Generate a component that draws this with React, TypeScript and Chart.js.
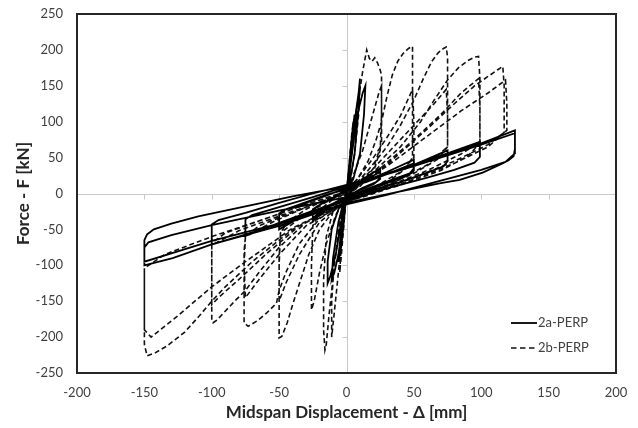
import React, { useEffect, useRef } from "react";
import { Chart, registerables } from "chart.js";

Chart.register(...registerables);

// ---- Axis definitions ----
const xLimits = [-200, 200];
const xStep = 50;
const yLimits = [-250, 250];
const yStep = 50;
const xTitle = "Midspan Displacement - Δ [mm]";
const yTitle = "Force - F [kN]";
const seriesNames = ["2a-PERP", "2b-PERP"];

// ---- Series 2a-PERP: [displacement mm, force kN] ----
const path2a: [number, number][] = [
  [0, 0], [2, 40], [4, 80], [6, 110], [5, 80], [2, 25], [0, 3], [-2, -40], [-4, -75], [-6, -95], [-5, -70], [-2, -22], [0, -2],
  [3, 50], [6, 100], [9, 140], [10, 160], [9, 120], [6, 55], [2, 12], [0, 2], [-3, -45], [-6, -85], [-9, -110], [-11, -120], [-10, -90], [-6, -40], [-2, -10], [0, 0],
  [4, 55], [8, 110], [12, 140], [14, 150], [13, 110], [10, 55], [5, 20], [0, 5], [-4, -40], [-8, -85], [-12, -115], [-14, -125], [-14, -95], [-11, -50], [-6, -22], [0, -4],
  [12, 20], [25, 35], [25, 22], [22, 16], [12, 8], [0, -5], [-12, -18], [-25, -38], [-25, -24], [-22, -18], [-12, -8], [0, 6],
  [12, 17], [25, 30], [25, 20], [20, 13], [10, 5], [0, -4], [-12, -16], [-25, -34], [-25, -22], [-20, -16], [-10, -6], [0, 4],
  [15, 18], [30, 30], [50, 47], [50, 35], [47, 28], [35, 20], [15, 6], [0, -6], [-20, -22], [-35, -34], [-50, -50], [-50, -30], [-46, -23], [-30, -13], [-15, -3], [0, 8],
  [15, 16], [30, 27], [50, 42], [50, 32], [46, 26], [35, 18], [15, 4], [0, -8], [-20, -24], [-35, -34], [-50, -46], [-50, -28], [-45, -22], [-30, -12], [-15, -2], [0, 6],
  [25, 24], [50, 40], [75, 60], [75, 45], [72, 38], [60, 29], [40, 16], [20, 5], [0, -8], [-25, -24], [-50, -41], [-75, -59], [-75, -36], [-70, -30], [-50, -19], [-25, -5], [0, 10],
  [25, 25], [50, 40], [75, 56], [99, 72], [99, 51], [95, 43], [80, 33], [60, 22], [30, 7], [0, -10], [-30, -29], [-60, -49], [-100, -71], [-100, -43], [-95, -37], [-75, -27], [-50, -13], [-25, 0], [0, 12],
  [25, 25], [50, 40], [75, 55], [100, 70], [125, 88], [125, 62], [124, 52], [120, 46], [115, 41], [101, 29], [84, 19], [69, 14], [40, 3], [0, -13], [-50, -45], [-100, -71], [-129, -90], [-150, -100],
  [-150, -65], [-148, -57], [-143, -50], [-130, -42], [-110, -32], [-75, -18], [-40, -4], [0, 10],
  [50, 38], [100, 68], [125, 84], [125, 56], [118, 44], [100, 33], [70, 18], [30, -2], [0, -15], [-50, -42], [-100, -66], [-150, -95],
  [-150, -75], [-147, -68], [-130, -58], [-100, -44], [-50, -24], [0, -5],
];

// ---- Series 2b-PERP: [displacement mm, force kN] ----
const path2b: [number, number][] = [
  [0, 0], [2, 40], [4, 85], [5, 100], [4, 70], [2, 25], [0, 0], [-2, -45], [-4, -90], [-5, -110], [-4, -75], [-2, -30], [0, 0],
  [3, 50], [6, 100], [9, 135], [10, 150], [9, 110], [6, 55], [3, 20], [0, 2], [-3, -50], [-6, -110], [-9, -165], [-11, -200], [-11, -150], [-9, -95], [-5, -40], [-2, -10], [0, 0],
  [4, 60], [8, 120], [12, 170], [15, 200], [17, 188], [19, 184], [21, 189], [23, 182], [25, 172], [26, 165], [26, 110], [25, 60], [20, 30], [10, 10], [0, -2],
  [-5, -40], [-9, -100], [-13, -170], [-15, -210], [-16, -218], [-17, -190], [-17, -120], [-15, -60], [-10, -25], [-5, -8], [0, 0],
  [5, 25], [12, 60], [18, 100], [24, 140], [26, 150], [26, 70], [20, 35], [10, 12], [0, -5], [-8, -30], [-15, -70], [-20, -110], [-24, -150], [-26, -162], [-26, -100], [-25, -45], [-18, -20], [-8, -5], [0, 5],
  [8, 20], [16, 45], [22, 75], [26, 100], [30, 135], [34, 165], [38, 184], [42, 195], [46, 202], [49, 205], [49, 150], [49, 90], [49, 50], [44, 35], [30, 15], [15, 2], [0, -8],
  [-10, -25], [-20, -50], [-28, -85], [-34, -120], [-40, -155], [-44, -180], [-48, -199], [-50, -201], [-50, -150], [-50, -90], [-49, -55], [-44, -40], [-30, -22], [-15, -8], [0, 2],
  [10, 25], [20, 50], [30, 78], [40, 108], [49, 145], [50, 100], [50, 50], [40, 30], [20, 8], [0, -10], [-20, -40], [-35, -85], [-45, -125], [-50, -150], [-50, -100], [-49, -55], [-35, -35], [-15, -12], [0, 0],
  [15, 30], [30, 65], [40, 95], [50, 130], [57, 160], [63, 183], [68, 196], [72, 202], [74, 204], [75, 190], [75, 140], [75, 90], [75, 65], [68, 48], [50, 28], [25, 8], [0, -10],
  [-20, -35], [-35, -70], [-45, -110], [-50, -135], [-52, -153], [-59, -166], [-66, -177], [-73, -185], [-76, -180], [-76, -130], [-76, -80], [-75, -60], [-65, -45], [-45, -30], [-20, -12], [0, 0],
  [20, 35], [40, 75], [55, 105], [65, 125], [74, 145], [75, 110], [75, 65], [60, 40], [35, 15], [0, -12], [-30, -45], [-50, -85], [-65, -120], [-75, -145], [-76, -100], [-75, -60], [-55, -40], [-25, -15], [0, 0],
  [20, 30], [40, 65], [55, 100], [65, 130], [75, 158], [83, 175], [90, 185], [95, 190], [98, 191], [99, 160], [99, 110], [99, 70], [90, 52], [70, 32], [40, 12], [0, -12],
  [-30, -40], [-50, -75], [-65, -110], [-75, -135], [-83, -150], [-91, -166], [-96, -176], [-99, -180], [-100, -176], [-100, -130], [-100, -69], [-90, -55], [-60, -35], [-30, -15], [0, 2],
  [25, 35], [50, 75], [70, 110], [85, 140], [98, 160], [99, 120], [99, 72], [85, 55], [60, 32], [30, 10], [0, -12], [-35, -45], [-60, -85], [-80, -120], [-95, -145], [-100, -155], [-100, -110], [-100, -72], [-80, -52], [-45, -28], [0, 0],
  [30, 40], [60, 90], [80, 125], [95, 150], [105, 163], [112, 172], [116, 177], [117, 150], [117, 110], [117, 85], [105, 65], [80, 42], [50, 20], [0, -12],
  [-40, -50], [-70, -95], [-90, -130], [-100, -150], [-109, -170], [-120, -193], [-133, -212], [-142, -222], [-148, -226], [-150, -210], [-150, -150], [-150, -104], [-135, -85], [-100, -60], [-60, -35], [-30, -15], [0, 3],
  [30, 38], [60, 80], [85, 115], [105, 140], [118, 158], [119, 125], [119, 88], [105, 68], [80, 45], [50, 22], [0, -12],
  [-40, -48], [-75, -95], [-100, -130], [-125, -170], [-145, -200], [-150, -190], [-150, -130], [-150, -104],
];

const FONT = "Lato, 'Open Sans', sans-serif";
const TEXT = "#404040";

const framePlugin = {
  id: "excelFrame",
  beforeDatasetsDraw(chart: any) {
    const { ctx, chartArea, scales } = chart;
    const { left, right, top, bottom } = chartArea;
    const xs = scales.x;
    const ys = scales.y;
    const x0 = Math.round(xs.getPixelForValue(0)) + 0.5;
    const y0 = Math.round(ys.getPixelForValue(0)) + 0.5;
    ctx.save();
    ctx.strokeStyle = "#c8c8c8";
    ctx.lineWidth = 1;
    ctx.beginPath();
    ctx.moveTo(left, y0);
    ctx.lineTo(right, y0);
    ctx.moveTo(x0, top);
    ctx.lineTo(x0, bottom);
    xs.ticks.forEach((t: any) => {
      const px = Math.round(xs.getPixelForValue(t.value)) + 0.5;
      ctx.moveTo(px, y0);
      ctx.lineTo(px, y0 + 5);
    });
    ys.ticks.forEach((t: any) => {
      const py = Math.round(ys.getPixelForValue(t.value)) + 0.5;
      ctx.moveTo(x0 - 5, py);
      ctx.lineTo(x0, py);
    });
    ctx.stroke();
    ctx.restore();
  },
  afterDatasetsDraw(chart: any) {
    const { ctx, chartArea } = chart;
    const { left, right, top, bottom } = chartArea;
    ctx.save();
    ctx.strokeStyle = "#262626";
    ctx.lineWidth = 2;
    ctx.strokeRect(left, top, right - left, bottom - top);
    ctx.restore();
  },
};

export default function App() {
  const ref = useRef<HTMLCanvasElement>(null);

  useEffect(() => {
    document.body.style.margin = "0";
    const canvas = ref.current;
    if (!canvas) return;
    const chart = new Chart(canvas, {
      type: "scatter",
      data: {
        datasets: [
          {
            label: seriesNames[0],
            data: path2a.map(([x, y]) => ({ x, y })),
            showLine: true,
            borderColor: "#000000",
            backgroundColor: "#000000",
            borderWidth: 1.8,
            pointRadius: 0,
            tension: 0,
            fill: false,
          },
          {
            label: seriesNames[1],
            data: path2b.map(([x, y]) => ({ x, y })),
            showLine: true,
            borderColor: "#111111",
            backgroundColor: "#111111",
            borderWidth: 1.6,
            borderDash: [5, 3],
            pointRadius: 0,
            tension: 0,
            fill: false,
          },
        ],
      },
      options: {
        responsive: false,
        animation: false,
        devicePixelRatio: 1,
        layout: { padding: { top: 14, right: 22, left: 0, bottom: 0 } },
        plugins: { legend: { display: false }, tooltip: { enabled: false } },
        scales: {
          x: {
            type: "linear",
            min: xLimits[0],
            max: xLimits[1],
            afterFit: (s: any) => {
              s.height = 55;
            },
            ticks: { stepSize: xStep, color: TEXT, font: { family: FONT, size: 13 }, padding: 0 },
            grid: { display: false, drawTicks: true, tickLength: 12 },
            border: { display: false },
            title: {
              display: true,
              text: xTitle,
              color: "#262626",
              font: { family: FONT, size: 17, weight: "bold" },
              padding: { top: 0, bottom: 5 },
            },
          },
          y: {
            type: "linear",
            min: yLimits[0],
            max: yLimits[1],
            afterFit: (s: any) => {
              s.width = 77;
            },
            ticks: { stepSize: yStep, color: TEXT, font: { family: FONT, size: 13 }, padding: 0 },
            grid: { display: false, drawTicks: true, tickLength: 14 },
            border: { display: false },
            title: {
              display: true,
              text: yTitle,
              color: "#262626",
              font: { family: FONT, size: 17, weight: "bold" },
              padding: { top: 13, bottom: 0 },
            },
          },
        },
      },
      plugins: [framePlugin],
    } as any);
    return () => chart.destroy();
  }, []);

  return (
    <div style={{ position: "relative", width: 638, height: 428, background: "#fff" }}>
      <canvas ref={ref} width={638} height={428} style={{ display: "block" }} />
      <div
        style={{
          position: "absolute",
          left: 511,
          top: 310,
          fontFamily: FONT,
          fontSize: 13,
          color: TEXT,
          lineHeight: "25px",
        }}
      >
        <div style={{ display: "flex", alignItems: "center", height: 25 }}>
          <svg width={26} height={4} style={{ display: "block" }}>
            <line x1={0} y1={2} x2={26} y2={2} stroke="#000" strokeWidth={1.8} />
          </svg>
          <span style={{ marginLeft: 1 }}>{seriesNames[0]}</span>
        </div>
        <div style={{ display: "flex", alignItems: "center", height: 25 }}>
          <svg width={26} height={4} style={{ display: "block" }}>
            <line x1={0} y1={2} x2={26} y2={2} stroke="#111" strokeWidth={1.5} strokeDasharray="5.5,3.5" />
          </svg>
          <span style={{ marginLeft: 1 }}>{seriesNames[1]}</span>
        </div>
      </div>
    </div>
  );
}
